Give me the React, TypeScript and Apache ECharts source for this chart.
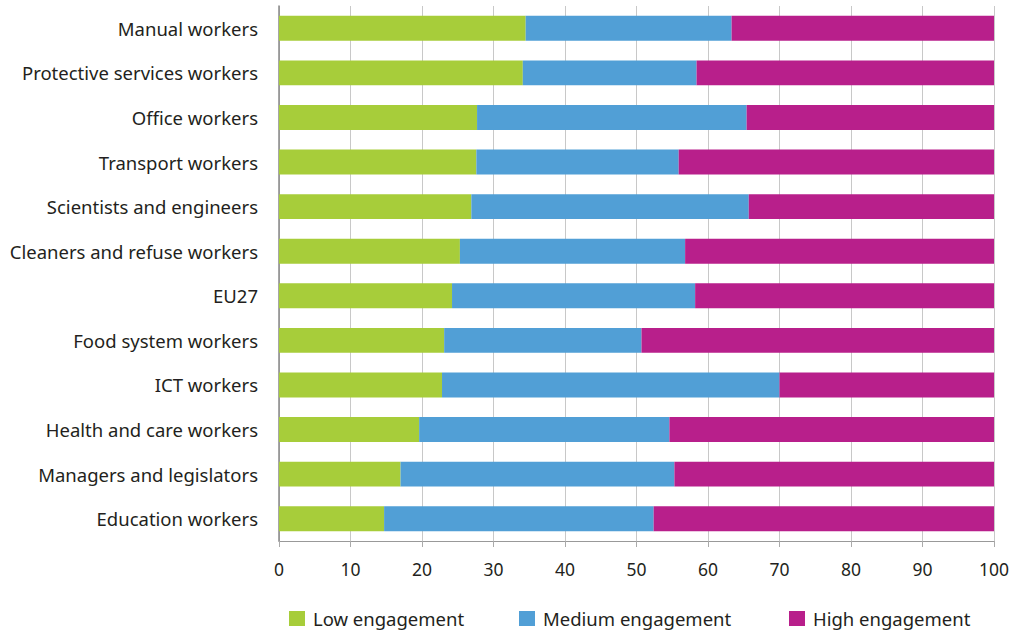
import React, { useEffect, useRef } from "react";
import * as echarts from "echarts";

const categories = [
  "Manual workers",
  "Protective services workers",
  "Office workers",
  "Transport workers",
  "Scientists and engineers",
  "Cleaners and refuse workers",
  "EU27",
  "Food system workers",
  "ICT workers",
  "Health and care workers",
  "Managers and legislators",
  "Education workers",
];
const seriesNames = ["Low engagement", "Medium engagement", "High engagement"];
const lowEngagement = [34.5, 34.1, 27.7, 27.6, 26.9, 25.3, 24.2, 23.1, 22.8, 19.6, 17.0, 14.7];
const mediumEngagement = [28.8, 24.3, 37.7, 28.3, 38.8, 31.5, 34.0, 27.6, 47.2, 35.0, 38.3, 37.7];
const highEngagement = [36.7, 41.6, 34.6, 44.1, 34.3, 43.2, 41.8, 49.3, 30.0, 45.4, 44.7, 47.6];
const xTicks = [0, 10, 20, 30, 40, 50, 60, 70, 80, 90, 100];

const FONT = "'Noto Sans', sans-serif";
const TEXT = "#231f20";
const COLORS = ["#a7cd3a", "#519fd6", "#b81f8b"];
const LEGEND_LEFT = [284, 514, 784];

export default function App() {
  const ref = useRef<HTMLDivElement>(null);
  useEffect(() => {
    if (!ref.current) return;
    const chart = echarts.init(ref.current, undefined, { renderer: "svg" });
    const values = [lowEngagement, mediumEngagement, highEngagement];
    chart.setOption({
      animation: false,
      textStyle: { fontFamily: FONT },
      grid: { left: 279, right: 19, top: 6, bottom: 93, containLabel: false },
      legend: seriesNames.map((n, i) => ({
        left: LEGEND_LEFT[i],
        bottom: 1,
        itemWidth: 16,
        itemHeight: 15,
        icon: "rect",
        textStyle: { fontFamily: FONT, fontSize: 18.5, color: TEXT, padding: [0, 0, 0, 3] },
        data: [n],
      })),
      xAxis: {
        type: "value",
        min: xTicks[0],
        max: xTicks[xTicks.length - 1],
        interval: 10,
        axisLine: { show: true, lineStyle: { color: "#999", width: 1 } },
        axisTick: { show: true, length: 6, lineStyle: { color: "#aaa" } },
        axisLabel: { fontFamily: FONT, fontSize: 17.5, color: TEXT, margin: 19 },
        splitLine: { show: true, lineStyle: { color: "#c8c8c8", width: 1 } },
      },
      yAxis: {
        type: "category",
        inverse: true,
        data: categories,
        axisLine: { show: true, lineStyle: { color: "#888", width: 1.5 } },
        axisTick: { show: false },
        axisLabel: { fontFamily: FONT, fontSize: 18.5, color: TEXT, margin: 21 },
      },
      series: seriesNames.map((name, i) => ({
        name,
        type: "bar",
        stack: "total",
        barWidth: "56%",
        data: values[i],
        itemStyle: { color: COLORS[i] },
      })),
    });
    return () => chart.dispose();
  }, []);
  return <div ref={ref} style={{ width: 1013, height: 634, position: "absolute", left: 0, top: 0 }} />;
}
